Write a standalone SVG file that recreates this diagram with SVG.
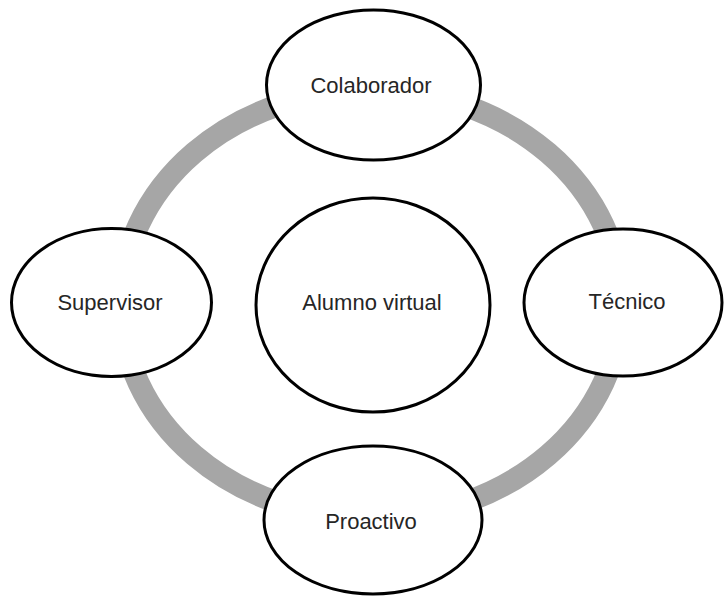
<svg xmlns="http://www.w3.org/2000/svg" width="724" height="603" viewBox="0 0 724 603">
  <style>
    .node { fill: #ffffff; stroke: #000000; stroke-width: 3; }
    .ring { fill: none; stroke: #a6a6a6; stroke-width: 22; }
    .label { font-family: "Liberation Sans", Arial, sans-serif; font-size: 22px; fill: #262626; text-anchor: middle; }
  </style>
  <rect x="0" y="0" width="724" height="603" fill="#ffffff"/>
  <g id="connectors">
    <ellipse class="ring" cx="371" cy="304" rx="250" ry="214"/>
  </g>
  <g id="colaborador">
    <ellipse class="node" cx="373.5" cy="85" rx="107" ry="75"/>
    <text class="label" x="371" y="93">Colaborador</text>
  </g>
  <g id="supervisor">
    <ellipse class="node" cx="111.5" cy="302.5" rx="100" ry="74"/>
    <text class="label" x="110" y="310">Supervisor</text>
  </g>
  <g id="alumno-virtual">
    <ellipse class="node" cx="373" cy="305" rx="117" ry="107"/>
    <text class="label" x="372" y="310">Alumno virtual</text>
  </g>
  <g id="tecnico">
    <ellipse class="node" cx="623" cy="302.5" rx="99" ry="73.5"/>
    <text class="label" x="627" y="309">Técnico</text>
  </g>
  <g id="proactivo">
    <ellipse class="node" cx="373" cy="520" rx="109" ry="74"/>
    <text class="label" x="371" y="529">Proactivo</text>
  </g>
</svg>
